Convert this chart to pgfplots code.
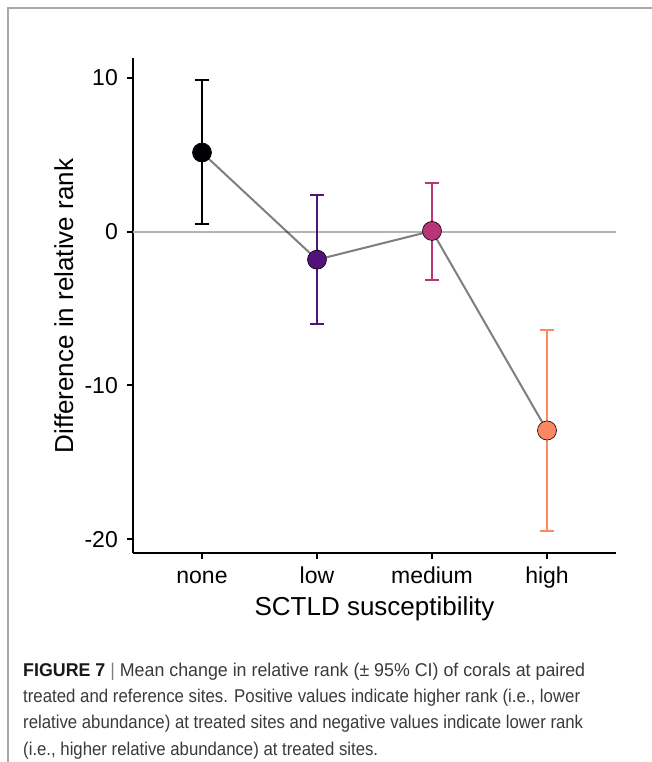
\documentclass[border=0pt]{standalone}
\usepackage{pgfplots}
\pgfplotsset{compat=1.18}
\usepackage{graphicx}
\usepackage{fontspec}
\setmainfont{Liberation Sans}
\definecolor{mnone}{HTML}{000004}
\definecolor{mlow}{HTML}{51127C}
\definecolor{mmed}{HTML}{B63679}
\definecolor{mhigh}{HTML}{FB8861}
\definecolor{zeroline}{HTML}{B4B4B4}
\definecolor{frame}{HTML}{A8A8A8}
\definecolor{captext}{HTML}{3A3A3A}
\newcommand\capfont{\fontsize{18.5}{18.5}\selectfont}
\newcommand\lineone{\textcolor{black!90}{\textbf{FIGURE 7}} \textcolor{black!50}{|} Mean change in relative rank (± 95\% CI) of corals at paired}
\newcommand\linetwo{treated and reference sites. Positive values indicate higher rank (i.e., lower}
\newcommand\linethree{relative abundance) at treated sites and negative values indicate lower rank}
\newcommand\linefour{(i.e., higher relative abundance) at treated sites.}
\newlength\capw
\begin{document}
\settowidth\capw{\capfont\lineone}%
\pgfmathsetmacro\capsxa{562/\capw}%
\settowidth\capw{\capfont\linetwo}%
\pgfmathsetmacro\capsxb{557/\capw}%
\settowidth\capw{\capfont\linethree}%
\pgfmathsetmacro\capsxc{560/\capw}%
\begin{tikzpicture}
\useasboundingbox (0pt,0pt) rectangle (651pt,-762pt);
\draw[frame, line width=1.2pt] (8pt,-763pt) -- (8pt,-8pt) -- (652pt,-8pt);
\begin{axis}[
  at={(133pt,-553pt)}, anchor=south west,
  scale only axis, width=483pt, height=495pt,
  xmin=0.4, xmax=4.6, ymin=-20.9, ymax=11.3,
  axis x line*=bottom, axis y line*=left,
  axis line style={line width=2pt, black, -},
  xtick={1,2,3,4}, xticklabels={none,low,medium,high},
  ytick={-20,-10,0,10},
  tick align=outside, major tick length=6pt,
  tick style={line width=2pt, black},
  ticklabel style={font=\fontsize{23}{23}\selectfont, text=black},
  /pgf/number format/assume math mode=true,
  yticklabel style={anchor=east, inner sep=0pt, xshift=-9pt},
  xticklabel style={anchor=base, inner sep=0pt, yshift=-24pt},
  clip=false,
]
\addplot[zeroline, line width=2pt, forget plot] coordinates {(0.4,0) (4.6,0)};
% error bars
\addplot[draw=none, mark=none, forget plot,
  error bars/.cd, y dir=both, y explicit,
  error bar style={line width=2pt, mnone},
  error mark options={rotate=90, line width=2pt, mnone, mark size=7pt}]
  coordinates {(1,5.15) += (0,4.70) -= (0,4.65)};
\addplot[draw=none, mark=none, forget plot,
  error bars/.cd, y dir=both, y explicit,
  error bar style={line width=2pt, mlow},
  error mark options={rotate=90, line width=2pt, mlow, mark size=7pt}]
  coordinates {(2,-1.82) += (0,4.22) -= (0,4.18)};
\addplot[draw=none, mark=none, forget plot,
  error bars/.cd, y dir=both, y explicit,
  error bar style={line width=2pt, mmed},
  error mark options={rotate=90, line width=2pt, mmed, mark size=7pt}]
  coordinates {(3,0.05) += (0,3.15) -= (0,3.17)};
\addplot[draw=none, mark=none, forget plot,
  error bars/.cd, y dir=both, y explicit,
  error bar style={line width=2pt, mhigh},
  error mark options={rotate=90, line width=2pt, mhigh, mark size=7pt}]
  coordinates {(4,-12.93) += (0,6.55) -= (0,6.55)};
% points
\addplot[only marks, mark=*, mark size=9.5pt, mark options={fill=mnone, draw=black, line width=0.6pt}] coordinates {(1,5.15)};
\addplot[only marks, mark=*, mark size=9.5pt, mark options={fill=mlow, draw=black, line width=0.6pt}] coordinates {(2,-1.82)};
\addplot[only marks, mark=*, mark size=9.5pt, mark options={fill=mmed, draw=black, line width=0.6pt}] coordinates {(3,0.05)};
\addplot[only marks, mark=*, mark size=9.5pt, mark options={fill=mhigh, draw=black, line width=0.6pt}] coordinates {(4,-12.93)};
% connecting line
\addplot[black, opacity=0.5, line width=2pt, mark=none] coordinates {(1,5.15) (2,-1.82) (3,0.05) (4,-12.93)};
\end{axis}
\node[rotate=90, anchor=base, inner sep=0pt, font=\fontsize{26}{26}\selectfont] at (73pt,-306pt) {Difference in relative rank};
\node[anchor=base, inner sep=0pt, font=\fontsize{26}{26}\selectfont] at (374.5pt,-615pt) {SCTLD susceptibility};
\begin{scope}[every node/.style={anchor=base west, inner sep=0pt, text=captext, font=\capfont}]
\node at (23pt,-676pt) {\scalebox{\capsxa}[1]{\lineone}};
\node at (23pt,-702pt) {\scalebox{\capsxb}[1]{\linetwo}};
\node at (23pt,-728.5pt) {\scalebox{\capsxc}[1]{\linethree}};
\node at (23pt,-755pt) {\scalebox{\capsxc}[1]{\linefour}};
\end{scope}
\end{tikzpicture}
\end{document}
